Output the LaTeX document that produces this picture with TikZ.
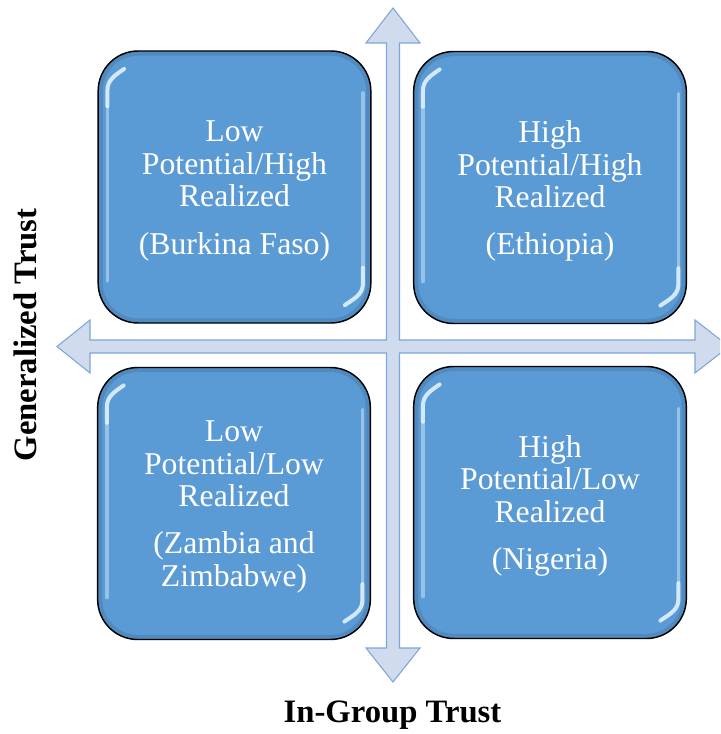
\documentclass[tikz,border=0pt]{standalone}
\usepackage{fontspec}
\setmainfont{Liberation Serif}
\usetikzlibrary{calc}
\definecolor{boxblue}{RGB}{91,155,213}
\definecolor{arrowfill}{RGB}{208,220,238}
\definecolor{arrowline}{RGB}{124,166,218}
\definecolor{glosscol}{RGB}{225,242,255}
\tikzset{
  quad/.style={draw=black, line width=1.1pt, fill=boxblue, rounded corners=30pt,
    minimum width=204.5pt, minimum height=204pt, inner sep=0pt,
    path picture={\draw[line width=7pt, draw=boxblue!70!black, opacity=0.35, rounded corners=30pt]
      (path picture bounding box.south west) rectangle (path picture bounding box.north east);}},
  quadtext/.style={align=center, text=white, inner sep=0pt, font=\fontsize{23.8}{24.4}\selectfont},
  axislabel/.style={font=\bfseries\fontsize{24.5}{26}\selectfont, text=black, inner sep=0pt},
  glossbright/.style={draw=glosscol, line width=3pt, opacity=0.9, line cap=round},
  glossdim/.style={draw=glosscol, line width=2.6pt, opacity=0.45, line cap=round},
  crossarrow/.style={fill=arrowfill, draw=arrowline, line width=0.8pt, line join=miter}
}
\newcommand{\glossbox}[1]{%
  \draw[glossdim] ([shift={(7.5pt,-42pt)}]#1.north west) -- ([shift={(7.5pt,32pt)}]#1.south west);
  \draw[glossbright] ([shift={(7.5pt,-42pt)}]#1.north west) -- ([shift={(7.5pt,-30pt)}]#1.north west) to[out=90,in=215] ([shift={(20pt,-14pt)}]#1.north west);
  \draw[glossdim] ([shift={(-6.5pt,-32pt)}]#1.north east) -- ([shift={(-6.5pt,42pt)}]#1.south east);
  \draw[glossbright] ([shift={(-6.5pt,42pt)}]#1.south east) -- ([shift={(-6.5pt,30pt)}]#1.south east) to[out=-90,in=35] ([shift={(-20pt,14pt)}]#1.south east);
}
\begin{document}
\begin{tikzpicture}[x=0.75pt,y=-0.75pt]
\useasboundingbox (0,0) rectangle (720,734);
\begin{scope}
\clip (0,0) rectangle (720,734);
% cross-shaped double arrows
\draw[crossarrow] (393,8) -- (420,43) -- (399.5,43) -- (399.5,340) -- (695,340) -- (695,320)
  -- (729,346.5) -- (695,373) -- (695,353) -- (399.5,353) -- (399.5,648) -- (420,648)
  -- (393,682) -- (366,648) -- (386.5,648) -- (386.5,353) -- (90,353) -- (90,373)
  -- (57,346.5) -- (90,320) -- (90,340) -- (386.5,340) -- (386.5,43) -- (366,43) -- cycle;
\end{scope}
% quadrant boxes
\node[quad] (tl) at (234.5,187) {};
\node[quad] (tr) at (550,187.5) {};
\node[quad] (bl) at (234,503.5) {};
\node[quad] (br) at (550,502.5) {};
\glossbox{tl}
\glossbox{tr}
\glossbox{bl}
\glossbox{br}
\node[quadtext] (tlt) at (234.5,191) {Low\\Potential/High\\Realized\\[11pt](Burkina Faso)};
\node[quadtext] (trt) at (550,191) {High\\Potential/High\\Realized\\[11pt](Ethiopia)};
\node[quadtext] (blt) at (234,507) {Low\\Potential/Low\\Realized\\[11pt](Zambia and\\Zimbabwe)};
\node[quadtext] (brt) at (550,506) {High\\Potential/Low\\Realized\\[11pt](Nigeria)};
% axis labels
\node[axislabel, rotate=90] (gen) at (25,335) {Generalized Trust};
\node[axislabel] (ing) at (392.5,715) {In-Group Trust};
\end{tikzpicture}
\end{document}
